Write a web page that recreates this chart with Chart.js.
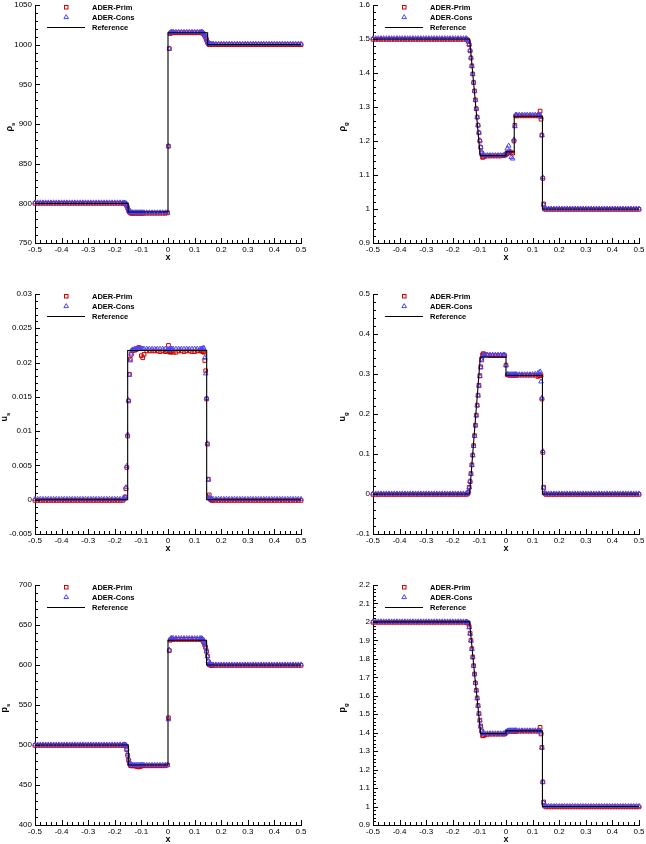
<!DOCTYPE html>
<html>
<head>
<meta charset="utf-8">
<script src="https://cdn.jsdelivr.net/npm/chart.js@4.4.1/dist/chart.umd.min.js"></script>
<style>
  html, body { margin: 0; padding: 0; background: #fff; }
  body { width: 646px; height: 844px; position: relative; overflow: hidden; }
  .panel { position: absolute; }
</style>
</head>
<body>
<div class="panel" id="p1"><canvas id="c1"></canvas></div>
<div class="panel" id="p2"><canvas id="c2"></canvas></div>
<div class="panel" id="p3"><canvas id="c3"></canvas></div>
<div class="panel" id="p4"><canvas id="c4"></canvas></div>
<div class="panel" id="p5"><canvas id="c5"></canvas></div>
<div class="panel" id="p6"><canvas id="c6"></canvas></div>
<script>
// legend names
const seriesNames = ["ADER-Prim", "ADER-Cons", "Reference"];

// x ticks shared by every panel
const xTicksMin = -0.5, xTicksMax = 0.5, xTicksStep = 0.1;

// ---------- solid phase (left column) ----------
const xSolid = [
  -0.5, -0.49, -0.48, -0.47, -0.46, -0.45, -0.44, -0.43, -0.42, -0.41,
  -0.4, -0.39, -0.38, -0.37, -0.36, -0.35, -0.34, -0.33, -0.32, -0.31,
  -0.3, -0.29, -0.28, -0.27, -0.26, -0.25, -0.24, -0.23, -0.22, -0.21,
  -0.2, -0.19, -0.18, -0.17,
  -0.165, -0.1617, -0.1583, -0.155, -0.1517, -0.1483, -0.145, -0.1417, -0.1383, -0.135, -0.1317,
  -0.125, -0.12, -0.115, -0.11, -0.105, -0.1, -0.095, -0.09,
  -0.08, -0.07, -0.06, -0.05, -0.04, -0.03, -0.02, -0.01, -0.0017,
  0.0017, 0.005, 0.0083, 0.0117, 0.015,
  0.02, 0.03, 0.04, 0.05, 0.06, 0.07, 0.08, 0.09, 0.1, 0.11, 0.12,
  0.125, 0.1283, 0.1317, 0.135, 0.1383, 0.1417, 0.145, 0.1483, 0.1517, 0.155, 0.1583, 0.1617, 0.165,
  0.17, 0.18, 0.19,
  0.2, 0.21, 0.22, 0.23, 0.24, 0.25, 0.26, 0.27, 0.28, 0.29,
  0.3, 0.31, 0.32, 0.33, 0.34, 0.35, 0.36, 0.37, 0.38, 0.39,
  0.4, 0.41, 0.42, 0.43, 0.44, 0.45, 0.46, 0.47, 0.48, 0.49,
  0.5
];

const rhoS_prim = [
  800, 800, 800, 800, 800, 800, 800, 800, 800, 800,
  800, 800, 800, 800, 800, 800, 800, 800, 800, 800,
  800, 800, 800, 800, 800, 800, 800, 800, 800, 800,
  800, 800, 800, 800,
  800, 800, 799, 797, 794, 791, 789, 788, 787.5, 787.5, 787.5,
  787.5, 787.5, 787.5, 787.5, 787.5, 787.5, 787.5, 787.5,
  787.5, 787.5, 787.5, 787.5, 787.5, 787.5, 787.5, 787.5, 788,
  872, 995, 1014, 1015, 1015,
  1015, 1015, 1015, 1015, 1015, 1015, 1015, 1015, 1015, 1015, 1015,
  1015, 1015, 1014, 1013, 1011, 1009, 1006, 1003, 1001, 1000, 1000, 1000, 1000,
  1000, 1000, 1000,
  1000, 1000, 1000, 1000, 1000, 1000, 1000, 1000, 1000, 1000,
  1000, 1000, 1000, 1000, 1000, 1000, 1000, 1000, 1000, 1000,
  1000, 1000, 1000, 1000, 1000, 1000, 1000, 1000, 1000, 1000,
  1000
];
const rhoS_cons = [
  801, 801, 801, 801, 801, 801, 801, 801, 801, 801,
  801, 801, 801, 801, 801, 801, 801, 801, 801, 801,
  801, 801, 801, 801, 801, 801, 801, 801, 801, 801,
  801, 801, 801, 801,
  800.5, 800.5, 800, 798, 795, 792, 790, 789, 788.5, 788.5, 788.5,
  788.5, 788.5, 788.5, 788.5, 788.5, 788.5, 788.5, 788.5,
  788.5, 788.5, 788.5, 788.5, 788.5, 788.5, 788.5, 788.5, 788.5,
  872, 995, 1015, 1016, 1016,
  1016, 1016, 1016, 1016, 1016, 1016, 1016, 1016, 1016, 1016, 1016,
  1016, 1016, 1015, 1014, 1012, 1010, 1007, 1004, 1002, 1001, 1001, 1001, 1001,
  1001, 1001, 1001,
  1001, 1001, 1001, 1001, 1001, 1001, 1001, 1001, 1001, 1001,
  1001, 1001, 1001, 1001, 1001, 1001, 1001, 1001, 1001, 1001,
  1001, 1001, 1001, 1001, 1001, 1001, 1001, 1001, 1001, 1001,
  1001
];
const rhoS_refX = [-0.5, -0.15, -0.15, 0, 0, 0.149, 0.149, 0.5];
const rhoS_refY = [800, 800, 789, 789, 1015, 1015, 1000, 1000];

const uS_prim = [
  -0.0001, -0.0001, -0.0001, -0.0001, -0.0001, -0.0001, -0.0001, -0.0001, -0.0001, -0.0001,
  -0.0001, -0.0001, -0.0001, -0.0001, -0.0001, -0.0001, -0.0001, -0.0001, -0.0001, -0.0001,
  -0.0001, -0.0001, -0.0001, -0.0001, -0.0001, -0.0001, -0.0001, -0.0001, -0.0001, -0.0001,
  -0.0001, -0.0001, -0.0001, -0.0001,
  0.0001, 0.0004, 0.0016, 0.0047, 0.0093, 0.0144, 0.0183, 0.0205, 0.0212, 0.0217, 0.0218,
  0.0218, 0.0219, 0.022, 0.0222, 0.0221, 0.021, 0.0207, 0.0212,
  0.0217, 0.0217, 0.0217, 0.0217, 0.0217, 0.0216, 0.0217, 0.0216, 0.0217,
  0.0225, 0.0216, 0.0215, 0.0216, 0.0217,
  0.0215, 0.0215, 0.0217, 0.0217, 0.0216, 0.0217, 0.0217, 0.0216, 0.0216, 0.0217, 0.0217,
  0.0217, 0.0217, 0.0216, 0.0215, 0.0203, 0.0188, 0.0147, 0.0081, 0.003, 0.0007, 0.0001, 0, -0.0001,
  -0.0001, -0.0001, -0.0001,
  -0.0001, -0.0001, -0.0001, -0.0001, -0.0001, -0.0001, -0.0001, -0.0001, -0.0001, -0.0001,
  -0.0001, -0.0001, -0.0001, -0.0001, -0.0001, -0.0001, -0.0001, -0.0001, -0.0001, -0.0001,
  -0.0001, -0.0001, -0.0001, -0.0001, -0.0001, -0.0001, -0.0001, -0.0001, -0.0001, -0.0001,
  -0.0001
];
const uS_cons = [
  0.0001, 0.0001, 0.0001, 0.0001, 0.0001, 0.0001, 0.0001, 0.0001, 0.0001, 0.0001,
  0.0001, 0.0001, 0.0001, 0.0001, 0.0001, 0.0001, 0.0001, 0.0001, 0.0001, 0.0001,
  0.0001, 0.0001, 0.0001, 0.0001, 0.0001, 0.0001, 0.0001, 0.0001, 0.0001, 0.0001,
  0.0001, 0.0001, 0.0001, 0.0001,
  0.0002, 0.0004, 0.0018, 0.0049, 0.0095, 0.0145, 0.0182, 0.0203, 0.0213, 0.0218, 0.0219,
  0.022, 0.022, 0.022, 0.022, 0.022, 0.022, 0.022, 0.022,
  0.022, 0.022, 0.022, 0.022, 0.022, 0.022, 0.022, 0.022, 0.0219,
  0.0219, 0.0219, 0.022, 0.022, 0.022,
  0.022, 0.022, 0.022, 0.022, 0.022, 0.022, 0.022, 0.022, 0.022, 0.022, 0.022,
  0.022, 0.022, 0.0221, 0.0221, 0.0207, 0.0184, 0.0148, 0.0082, 0.0029, 0.0004, 0.0002, 0.0001, 0.0001,
  0.0001, 0.0001, 0.0001,
  0.0001, 0.0001, 0.0001, 0.0001, 0.0001, 0.0001, 0.0001, 0.0001, 0.0001, 0.0001,
  0.0001, 0.0001, 0.0001, 0.0001, 0.0001, 0.0001, 0.0001, 0.0001, 0.0001, 0.0001,
  0.0001, 0.0001, 0.0001, 0.0001, 0.0001, 0.0001, 0.0001, 0.0001, 0.0001, 0.0001,
  0.0001
];
const uS_refX = [-0.5, -0.1516, -0.1516, 0.1454, 0.1454, 0.5];
const uS_refY = [0, 0, 0.02175, 0.02175, 0, 0];

const pS_prim = [
  499.5, 499.5, 499.5, 499.5, 499.5, 499.5, 499.5, 499.5, 499.5, 499.5,
  499.5, 499.5, 499.5, 499.5, 499.5, 499.5, 499.5, 499.5, 499.5, 499.5,
  499.5, 499.5, 499.5, 499.5, 499.5, 499.5, 499.5, 499.5, 499.5, 499.5,
  499.5, 499.5, 499.5, 499.5,
  500, 500, 498.5, 494, 487, 481, 477, 474.5, 474, 474, 474,
  474, 473.5, 473, 472.5, 473, 474, 474, 474,
  474, 474, 474, 474, 474, 474, 474, 474, 475,
  534, 618, 631, 632, 632,
  632, 632, 632, 632, 632, 632, 632, 632, 632, 632, 632,
  632, 632, 630, 628, 625, 622, 617, 611, 604, 600.5, 600, 599.5, 599.5,
  599.5, 599.5, 599.5,
  599.5, 599.5, 599.5, 599.5, 599.5, 599.5, 599.5, 599.5, 599.5, 599.5,
  599.5, 599.5, 599.5, 599.5, 599.5, 599.5, 599.5, 599.5, 599.5, 599.5,
  599.5, 599.5, 599.5, 599.5, 599.5, 599.5, 599.5, 599.5, 599.5, 599.5,
  599.5
];
const pS_cons = [
  500.5, 500.5, 500.5, 500.5, 500.5, 500.5, 500.5, 500.5, 500.5, 500.5,
  500.5, 500.5, 500.5, 500.5, 500.5, 500.5, 500.5, 500.5, 500.5, 500.5,
  500.5, 500.5, 500.5, 500.5, 500.5, 500.5, 500.5, 500.5, 500.5, 500.5,
  500.5, 500.5, 500.5, 500.5,
  500.5, 500.5, 499.5, 495, 489, 483, 478, 475.5, 475, 475, 475,
  475, 475, 475, 475, 475, 475, 475, 475,
  475, 475, 475, 475, 475, 475, 475, 475, 475,
  532, 619, 632, 633.5, 633.5,
  633.5, 633.5, 633.5, 633.5, 633.5, 633.5, 633.5, 633.5, 633.5, 633.5, 633.5,
  633.5, 633, 631.5, 629, 626, 622, 617, 611, 605, 601.5, 601, 600.5, 600.5,
  600.5, 600.5, 600.5,
  600.5, 600.5, 600.5, 600.5, 600.5, 600.5, 600.5, 600.5, 600.5, 600.5,
  600.5, 600.5, 600.5, 600.5, 600.5, 600.5, 600.5, 600.5, 600.5, 600.5,
  600.5, 600.5, 600.5, 600.5, 600.5, 600.5, 600.5, 600.5, 600.5, 600.5,
  600.5
];
const pS_refX = [-0.5, -0.149, -0.149, 0, 0, 0.145, 0.145, 0.5];
const pS_refY = [500, 500, 475, 475, 631, 631, 600, 600];

// ---------- gas phase (right column) ----------
const xGas = [
  -0.5, -0.49, -0.48, -0.47, -0.46, -0.45, -0.44, -0.43, -0.42, -0.41,
  -0.4, -0.39, -0.38, -0.37, -0.36, -0.35, -0.34, -0.33, -0.32, -0.31,
  -0.3, -0.29, -0.28, -0.27, -0.26, -0.25, -0.24, -0.23, -0.22, -0.21,
  -0.2, -0.19, -0.18, -0.17, -0.16, -0.15,
  -0.145,
  -0.1417, -0.1383, -0.135, -0.1317, -0.1283, -0.125, -0.1217, -0.1183, -0.115,
  -0.1117, -0.1083, -0.105, -0.1017, -0.0983, -0.095, -0.0917, -0.0883, -0.085,
  -0.08, -0.07, -0.06, -0.05, -0.04, -0.03, -0.02, -0.01, -0.005,
  0, 0.005, 0.01, 0.015, 0.02, 0.025, 0.03, 0.0333, 0.0367,
  0.04, 0.05, 0.06, 0.07, 0.08, 0.09, 0.1, 0.11, 0.12,
  0.125, 0.1283, 0.1317, 0.135, 0.1383, 0.1417, 0.145, 0.15,
  0.16, 0.17, 0.18, 0.19,
  0.2, 0.21, 0.22, 0.23, 0.24, 0.25, 0.26, 0.27, 0.28, 0.29,
  0.3, 0.31, 0.32, 0.33, 0.34, 0.35, 0.36, 0.37, 0.38, 0.39,
  0.4, 0.41, 0.42, 0.43, 0.44, 0.45, 0.46, 0.47, 0.48, 0.49,
  0.5
];

const rhoG_prim = [
  1.499, 1.499, 1.499, 1.499, 1.499, 1.499, 1.499, 1.499, 1.499, 1.499,
  1.499, 1.499, 1.499, 1.499, 1.499, 1.499, 1.499, 1.499, 1.499, 1.499,
  1.499, 1.499, 1.499, 1.499, 1.499, 1.499, 1.499, 1.499, 1.499, 1.499,
  1.499, 1.499, 1.499, 1.499, 1.499, 1.499,
  1.497,
  1.493, 1.483, 1.465, 1.444, 1.421, 1.397, 1.372, 1.347, 1.321,
  1.295, 1.27, 1.246, 1.224, 1.2, 1.181, 1.165, 1.152, 1.153,
  1.155, 1.156, 1.156, 1.156, 1.156, 1.156, 1.156, 1.157, 1.158,
  1.16, 1.163, 1.166, 1.168, 1.166, 1.164, 1.2, 1.246, 1.274,
  1.274, 1.274, 1.274, 1.274, 1.274, 1.274, 1.274, 1.274, 1.274,
  1.276, 1.288, 1.264, 1.217, 1.09, 1.015, 1.0, 0.999,
  0.999, 0.999, 0.999, 0.999,
  0.999, 0.999, 0.999, 0.999, 0.999, 0.999, 0.999, 0.999, 0.999, 0.999,
  0.999, 0.999, 0.999, 0.999, 0.999, 0.999, 0.999, 0.999, 0.999, 0.999,
  0.999, 0.999, 0.999, 0.999, 0.999, 0.999, 0.999, 0.999, 0.999, 0.999,
  0.999
];
const rhoG_cons = [
  1.502, 1.502, 1.502, 1.502, 1.502, 1.502, 1.502, 1.502, 1.502, 1.502,
  1.502, 1.502, 1.502, 1.502, 1.502, 1.502, 1.502, 1.502, 1.502, 1.502,
  1.502, 1.502, 1.502, 1.502, 1.502, 1.502, 1.502, 1.502, 1.502, 1.502,
  1.502, 1.502, 1.502, 1.502, 1.502, 1.502,
  1.499,
  1.495, 1.485, 1.467, 1.445, 1.42, 1.397, 1.372, 1.347, 1.32,
  1.295, 1.27, 1.247, 1.225, 1.202, 1.182, 1.167, 1.16, 1.158,
  1.158, 1.158, 1.158, 1.158, 1.158, 1.158, 1.158, 1.158, 1.16,
  1.165, 1.178, 1.186, 1.17, 1.152, 1.148, 1.204, 1.243, 1.277,
  1.277, 1.277, 1.277, 1.277, 1.277, 1.277, 1.277, 1.277, 1.277,
  1.278, 1.276, 1.27, 1.217, 1.093, 1.012, 1.001, 1.001,
  1.001, 1.001, 1.001, 1.001,
  1.001, 1.001, 1.001, 1.001, 1.001, 1.001, 1.001, 1.001, 1.001, 1.001,
  1.001, 1.001, 1.001, 1.001, 1.001, 1.001, 1.001, 1.001, 1.001, 1.001,
  1.001, 1.001, 1.001, 1.001, 1.001, 1.001, 1.001, 1.001, 1.001, 1.001,
  1.001
];
const rhoG_refX = [-0.5, -0.137, -0.117, -0.097, 0, 0, 0.031, 0.031, 0.137, 0.137, 0.5];
const rhoG_refY = [1.5, 1.5, 1.33, 1.157, 1.157, 1.168, 1.168, 1.273, 1.273, 1.0, 1.0];

const uG_prim = [
  -0.001, -0.001, -0.001, -0.001, -0.001, -0.001, -0.001, -0.001, -0.001, -0.001,
  -0.001, -0.001, -0.001, -0.001, -0.001, -0.001, -0.001, -0.001, -0.001, -0.001,
  -0.001, -0.001, -0.001, -0.001, -0.001, -0.001, -0.001, -0.001, -0.001, -0.001,
  -0.001, -0.001, -0.001, -0.001, -0.001, -0.001,
  0.0,
  0.004, 0.017, 0.031, 0.051, 0.073, 0.097, 0.121, 0.146, 0.172,
  0.197, 0.222, 0.247, 0.272, 0.296, 0.318, 0.337, 0.348, 0.351,
  0.349, 0.347, 0.346, 0.346, 0.346, 0.346, 0.346, 0.346, 0.346,
  0.322, 0.298, 0.297, 0.297, 0.297, 0.297, 0.297, 0.297, 0.297,
  0.297, 0.297, 0.297, 0.297, 0.297, 0.297, 0.297, 0.297, 0.294,
  0.296, 0.2975, 0.296, 0.2375, 0.104, 0.017, 0.002, -0.001,
  -0.001, -0.001, -0.001, -0.001,
  -0.001, -0.001, -0.001, -0.001, -0.001, -0.001, -0.001, -0.001, -0.001, -0.001,
  -0.001, -0.001, -0.001, -0.001, -0.001, -0.001, -0.001, -0.001, -0.001, -0.001,
  -0.001, -0.001, -0.001, -0.001, -0.001, -0.001, -0.001, -0.001, -0.001, -0.001,
  -0.001
];
const uG_cons = [
  0.001, 0.001, 0.001, 0.001, 0.001, 0.001, 0.001, 0.001, 0.001, 0.001,
  0.001, 0.001, 0.001, 0.001, 0.001, 0.001, 0.001, 0.001, 0.001, 0.001,
  0.001, 0.001, 0.001, 0.001, 0.001, 0.001, 0.001, 0.001, 0.001, 0.001,
  0.001, 0.001, 0.001, 0.001, 0.001, 0.001,
  0.002,
  0.007, 0.016, 0.032, 0.05, 0.072, 0.097, 0.12, 0.145, 0.171,
  0.196, 0.221, 0.246, 0.27, 0.294, 0.316, 0.334, 0.344, 0.347,
  0.348, 0.348, 0.348, 0.348, 0.348, 0.348, 0.348, 0.348, 0.348,
  0.322, 0.3, 0.299, 0.299, 0.299, 0.299, 0.299, 0.299, 0.299,
  0.299, 0.299, 0.299, 0.299, 0.299, 0.299, 0.299, 0.3, 0.302,
  0.303, 0.306, 0.281, 0.24, 0.107, 0.015, 0.003, 0.001,
  0.001, 0.001, 0.001, 0.001,
  0.001, 0.001, 0.001, 0.001, 0.001, 0.001, 0.001, 0.001, 0.001, 0.001,
  0.001, 0.001, 0.001, 0.001, 0.001, 0.001, 0.001, 0.001, 0.001, 0.001,
  0.001, 0.001, 0.001, 0.001, 0.001, 0.001, 0.001, 0.001, 0.001, 0.001,
  0.001
];
const uG_refX = [-0.5, -0.137, -0.0965, 0, 0, 0.137, 0.137, 0.5];
const uG_refY = [0, 0, 0.3425, 0.3425, 0.297, 0.297, 0, 0];

const pG_prim = [
  1.998, 1.998, 1.998, 1.998, 1.998, 1.998, 1.998, 1.998, 1.998, 1.998,
  1.998, 1.998, 1.998, 1.998, 1.998, 1.998, 1.998, 1.998, 1.998, 1.998,
  1.998, 1.998, 1.998, 1.998, 1.998, 1.998, 1.998, 1.998, 1.998, 1.998,
  1.998, 1.998, 1.998, 1.998, 1.998, 1.998,
  1.997,
  1.993, 1.975, 1.939, 1.9, 1.855, 1.81, 1.763, 1.718, 1.67,
  1.63, 1.588, 1.547, 1.504, 1.468, 1.436, 1.409, 1.385, 1.383,
  1.388, 1.391, 1.392, 1.392, 1.392, 1.392, 1.392, 1.392, 1.393,
  1.398, 1.406, 1.408, 1.408, 1.408, 1.408, 1.408, 1.408, 1.408,
  1.408, 1.408, 1.408, 1.408, 1.408, 1.408, 1.408, 1.408, 1.408,
  1.41, 1.429, 1.393, 1.32, 1.133, 1.025, 1.003, 0.998,
  0.998, 0.998, 0.998, 0.998,
  0.998, 0.998, 0.998, 0.998, 0.998, 0.998, 0.998, 0.998, 0.998, 0.998,
  0.998, 0.998, 0.998, 0.998, 0.998, 0.998, 0.998, 0.998, 0.998, 0.998,
  0.998, 0.998, 0.998, 0.998, 0.998, 0.998, 0.998, 0.998, 0.998, 0.998,
  0.998
];
const pG_cons = [
  2.002, 2.002, 2.002, 2.002, 2.002, 2.002, 2.002, 2.002, 2.002, 2.002,
  2.002, 2.002, 2.002, 2.002, 2.002, 2.002, 2.002, 2.002, 2.002, 2.002,
  2.002, 2.002, 2.002, 2.002, 2.002, 2.002, 2.002, 2.002, 2.002, 2.002,
  2.002, 2.002, 2.002, 2.002, 2.002, 2.002,
  2.0,
  1.996, 1.97, 1.935, 1.898, 1.852, 1.808, 1.762, 1.716, 1.67,
  1.628, 1.586, 1.545, 1.502, 1.465, 1.432, 1.41, 1.398, 1.395,
  1.396, 1.396, 1.396, 1.396, 1.396, 1.396, 1.396, 1.396, 1.396,
  1.403, 1.41, 1.412, 1.412, 1.412, 1.412, 1.412, 1.412, 1.412,
  1.412, 1.412, 1.412, 1.412, 1.412, 1.412, 1.412, 1.412, 1.412,
  1.412, 1.41, 1.4, 1.318, 1.133, 1.02, 1.004, 1.002,
  1.002, 1.002, 1.002, 1.002,
  1.002, 1.002, 1.002, 1.002, 1.002, 1.002, 1.002, 1.002, 1.002, 1.002,
  1.002, 1.002, 1.002, 1.002, 1.002, 1.002, 1.002, 1.002, 1.002, 1.002,
  1.002, 1.002, 1.002, 1.002, 1.002, 1.002, 1.002, 1.002, 1.002, 1.002,
  1.002
];
const pG_refX = [-0.5, -0.137, -0.117, -0.095, 0, 0, 0.137, 0.137, 0.5];
const pG_refY = [2.0, 2.0, 1.70, 1.395, 1.395, 1.41, 1.41, 1.0, 1.0];

// ---------- layout / styling ----------
const FONT = '"Liberation Sans", Arial, Helvetica, sans-serif';
const RED = '#d00000';
const BLUE = '#4646ff';
const cols = [
  { left: 0, width: 320, L: 35, R: 301 },
  { left: 323, width: 323, L: 373, R: 639 }
];
const rows = [
  { top: 0, T: 4, B: 243 },
  { top: 282, T: 294, B: 534 },
  { top: 570, T: 585, B: 825 }
];

const panels = [
  { id: 1, col: 0, row: 0, x: xSolid, prim: rhoS_prim, cons: rhoS_cons, refX: rhoS_refX, refY: rhoS_refY,
    yMin: 750, yMax: 1050, yStep: 50, yMinor: 10, title: ['ρ', 's'], titleX: 10 },
  { id: 2, col: 1, row: 0, x: xGas, prim: rhoG_prim, cons: rhoG_cons, refX: rhoG_refX, refY: rhoG_refY,
    yMin: 0.9, yMax: 1.6, yStep: 0.1, yMinor: 0.02, title: ['ρ', 'g'], titleX: 20 },
  { id: 3, col: 0, row: 1, x: xSolid, prim: uS_prim, cons: uS_cons, refX: uS_refX, refY: uS_refY,
    yMin: -0.005, yMax: 0.03, yStep: 0.005, yMinor: 0.001, title: ['u', 's'], titleX: 5 },
  { id: 4, col: 1, row: 1, x: xGas, prim: uG_prim, cons: uG_cons, refX: uG_refX, refY: uG_refY,
    yMin: -0.1, yMax: 0.5, yStep: 0.1, yMinor: 0.02, title: ['u', 'g'], titleX: 20 },
  { id: 5, col: 0, row: 2, x: xSolid, prim: pS_prim, cons: pS_cons, refX: pS_refX, refY: pS_refY,
    yMin: 400, yMax: 700, yStep: 50, yMinor: 10, title: ['p', 's'], titleX: 5 },
  { id: 6, col: 1, row: 2, x: xGas, prim: pG_prim, cons: pG_cons, refX: pG_refX, refY: pG_refY,
    yMin: 0.9, yMax: 2.2, yStep: 0.1, yMinor: 0.02, title: ['p', 'g'], titleX: 20 }
];

function fmt(v) {
  return String(+Number(v).toFixed(6));
}

function pts(xs, ys) {
  if (xs.length !== ys.length) {
    console.error('length mismatch', xs.length, ys.length);
  }
  return xs.map((x, i) => ({ x: x, y: ys[i] }));
}

// inner ticks, axis titles and the in-plot legend
const tecplotDecor = {
  id: 'tecplotDecor',
  afterDraw(chart) {
    const o = chart.options.plugins.tecplotDecor;
    const ctx = chart.ctx;
    const a = chart.chartArea;
    const xs = chart.scales.x, ys = chart.scales.y;
    ctx.save();

    // minor and major ticks pointing inwards
    ctx.strokeStyle = '#000';
    ctx.lineWidth = 1;
    ctx.beginPath();
    let n = Math.round((xs.max - xs.min) / o.xMinor);
    for (let i = 0; i <= n; i++) {
      const px = Math.round(xs.getPixelForValue(xs.min + i * o.xMinor)) + 0.5;
      const len = i % 5 === 0 ? 5 : 3;
      ctx.moveTo(px, a.bottom);
      ctx.lineTo(px, a.bottom - len);
    }
    n = Math.round((ys.max - ys.min) / o.yMinor);
    for (let i = 0; i <= n; i++) {
      const py = Math.round(ys.getPixelForValue(ys.min + i * o.yMinor)) + 0.5;
      const len = i % 5 === 0 ? 5 : 3;
      ctx.moveTo(a.left, py);
      ctx.lineTo(a.left + len, py);
    }
    ctx.stroke();

    // x axis title
    ctx.fillStyle = '#000';
    ctx.font = 'bold 9px ' + FONT;
    ctx.textAlign = 'center';
    ctx.textBaseline = 'middle';
    ctx.fillText('x', (a.left + a.right) / 2, a.bottom + 15);

    // y axis title with subscript, rotated
    ctx.save();
    ctx.translate(o.titleX, (a.top + a.bottom) / 2 + 3);
    ctx.rotate(-Math.PI / 2);
    ctx.font = 'bold 9px ' + FONT;
    const w1 = ctx.measureText(o.title[0]).width;
    ctx.font = 'bold 6px ' + FONT;
    const w2 = ctx.measureText(o.title[1]).width;
    ctx.textAlign = 'left';
    ctx.font = 'bold 9px ' + FONT;
    ctx.fillText(o.title[0], -(w1 + w2) / 2, 0);
    ctx.font = 'bold 6px ' + FONT;
    ctx.fillText(o.title[1], -(w1 + w2) / 2 + w1, 3);
    ctx.restore();

    // legend
    const lx = a.left, ly = a.top;
    ctx.lineWidth = 1;
    ctx.strokeStyle = RED;
    ctx.strokeRect(lx + 29.5, ly + 0.5, 3.5, 3.5);
    ctx.strokeStyle = BLUE;
    ctx.beginPath();
    ctx.moveTo(lx + 31.2, ly + 9.6);
    ctx.lineTo(lx + 33.5, ly + 13.6);
    ctx.lineTo(lx + 28.9, ly + 13.6);
    ctx.closePath();
    ctx.stroke();
    ctx.strokeStyle = '#000';
    ctx.beginPath();
    ctx.moveTo(lx + 12, ly + 22.5);
    ctx.lineTo(lx + 50, ly + 22.5);
    ctx.stroke();
    ctx.font = 'bold 7.5px ' + FONT;
    ctx.textAlign = 'left';
    ctx.textBaseline = 'middle';
    ctx.fillStyle = '#000';
    ctx.fillText(seriesNames[0], lx + 57, ly + 2.5);
    ctx.fillText(seriesNames[1], lx + 57, ly + 12.5);
    ctx.fillText(seriesNames[2], lx + 57, ly + 22.5);
    ctx.restore();
  }
};

panels.forEach(function (p) {
  const c = cols[p.col], r = rows[p.row];
  const height = Math.min(r.B - r.top + 21, 844 - r.top);
  const xAxisH = height - (r.B - r.top);
  const yAxisW = c.L - c.left;

  const holder = document.getElementById('p' + p.id);
  holder.style.left = c.left + 'px';
  holder.style.top = r.top + 'px';
  const canvas = document.getElementById('c' + p.id);
  canvas.width = c.width;
  canvas.height = height;
  canvas.style.width = c.width + 'px';
  canvas.style.height = height + 'px';

  new Chart(canvas, {
    type: 'scatter',
    data: {
      datasets: [
        {
          label: seriesNames[2],
          data: pts(p.refX, p.refY),
          showLine: true,
          borderColor: '#000',
          borderWidth: 1.1,
          pointRadius: 0,
          tension: 0,
          order: 0
        },
        {
          label: seriesNames[1],
          data: pts(p.x, p.cons),
          showLine: false,
          pointStyle: 'triangle',
          pointRadius: 2.7,
          borderWidth: 1,
          borderColor: BLUE,
          backgroundColor: 'rgba(0,0,0,0)',
          clip: false,
          order: 1
        },
        {
          label: seriesNames[0],
          data: pts(p.x, p.prim),
          showLine: false,
          pointStyle: 'rect',
          pointRadius: 2.6,
          borderWidth: 1,
          borderColor: RED,
          backgroundColor: 'rgba(0,0,0,0)',
          clip: false,
          order: 2
        }
      ]
    },
    options: {
      responsive: false,
      animation: false,
      devicePixelRatio: 1,
      layout: { padding: { top: r.T - r.top, right: c.left + c.width - c.R, left: 0, bottom: 0 } },
      plugins: {
        legend: { display: false },
        tooltip: { enabled: false },
        tecplotDecor: { xMinor: 0.02, yMinor: p.yMinor, title: p.title, titleX: p.titleX }
      },
      scales: {
        x: {
          type: 'linear',
          min: xTicksMin,
          max: xTicksMax,
          ticks: {
            stepSize: xTicksStep,
            autoSkip: false,
            maxRotation: 0,
            padding: 2,
            color: '#000',
            font: { size: 8, family: FONT },
            callback: fmt
          },
          grid: { display: true, drawOnChartArea: false, drawTicks: false },
          border: { display: true, color: '#000', width: 1 },
          afterFit: function (s) { s.height = xAxisH; s.paddingLeft = 0; s.paddingRight = 0; }
        },
        y: {
          type: 'linear',
          min: p.yMin,
          max: p.yMax,
          ticks: {
            stepSize: p.yStep,
            autoSkip: false,
            padding: 3,
            color: '#000',
            font: { size: 8, family: FONT },
            callback: fmt
          },
          grid: { display: true, drawOnChartArea: false, drawTicks: false },
          border: { display: true, color: '#000', width: 1 },
          afterFit: function (s) { s.width = yAxisW; s.paddingTop = 0; s.paddingBottom = 0; }
        }
      }
    },
    plugins: [tecplotDecor]
  });
});
</script>
</body>
</html>
